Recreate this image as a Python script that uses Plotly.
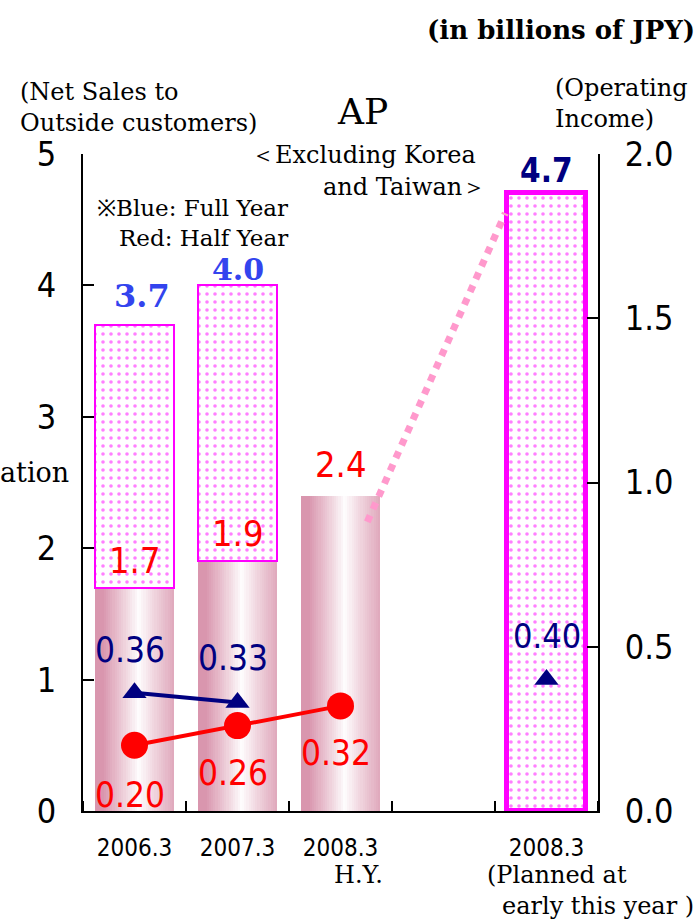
import plotly.graph_objects as go

# ---- data (billions of JPY) ----
categories = ["2006.3", "2007.3", "2008.3", "", "2008.3"]
half_idx = [0, 1, 2]
net_sales_half = [1.7, 1.9, 2.4]          # half-year net sales (H.Y. for 2008.3)
full_idx = [0, 1]
net_sales_full = [3.7, 4.0]               # full-year net sales
plan_idx = 4
net_sales_plan = 4.7                      # planned at early this year
op_income_full = [0.36, 0.33]             # full-year operating income
op_income_half = [0.20, 0.26, 0.32]       # half-year operating income
op_income_plan = 0.40

# ---- styling ----
NARROW = "DejaVu Sans Condensed, Liberation Sans Narrow, Arial Narrow, sans-serif"
SERIF = "DejaVu Serif, Liberation Serif, serif"
MAGENTA = "#ff00ff"
NAVY = "#000080"
RED = "#ff0000"
ROYAL = "#3344ee"
BAR_W = 0.77
PINK_EDGE = (217, 150, 174)

W, H = 700, 921
L, R, T, B = 83, 598, 154, 811


def px(x, y):
    """pixel position -> paper coordinates"""
    return (x - L) / (R - L), (B - y) / (B - T)


fig = go.Figure()

# half-year bars with a horizontal pink-white-pink shading, built from thin strips
N = 36
for i in range(N):
    t = (i + 0.5) / N
    k = abs(2 * t - 1.1) / 1.1 if t > 0.55 else abs(2 * t - 1.1) / 0.9
    k = min(1.0, k) ** 0.9
    col = tuple(round(255 + (c - 255) * k) for c in PINK_EDGE)
    fig.add_trace(go.Bar(
        x=half_idx, y=net_sales_half,
        width=BAR_W / N * 1.15, offset=-BAR_W / 2 + i * BAR_W / N,
        marker=dict(color="rgb(%d,%d,%d)" % col, line=dict(width=0)),
        hoverinfo="skip", showlegend=False,
    ))

dots = dict(shape=".", fgcolor=MAGENTA, bgcolor="white", size=8, solidity=0.16)

# full-year remainder stacked on the half-year bar
fig.add_trace(go.Bar(
    x=full_idx,
    y=[f - h for f, h in zip(net_sales_full, net_sales_half)],
    base=net_sales_half[:len(full_idx)],
    width=BAR_W,
    marker=dict(color="white", pattern=dots, line=dict(color=MAGENTA, width=2)),
    showlegend=False, hoverinfo="skip",
))

# planned full-year bar
fig.add_trace(go.Bar(
    x=[plan_idx], y=[net_sales_plan], width=BAR_W,
    marker=dict(color="white", pattern=dots, line=dict(color=MAGENTA, width=5)),
    showlegend=False, hoverinfo="skip",
))

# connector from the H.Y. bar to the planned bar
fig.add_trace(go.Scatter(
    x=[half_idx[2] + 0.26, plan_idx - 0.4],
    y=[net_sales_half[2] - 0.2, net_sales_plan - 0.15],
    mode="lines", line=dict(color="#ff99cc", width=7, dash="dot"),
    showlegend=False, hoverinfo="skip",
))

# operating income lines (right axis)
fig.add_trace(go.Scatter(
    x=full_idx, y=op_income_full, yaxis="y2", mode="lines+markers",
    line=dict(color=NAVY, width=4),
    marker=dict(symbol="triangle-up", size=21, color=NAVY),
    showlegend=False,
))
fig.add_trace(go.Scatter(
    x=[plan_idx], y=[op_income_plan], yaxis="y2", mode="markers",
    marker=dict(symbol="triangle-up", size=21, color=NAVY),
    showlegend=False,
))
fig.add_trace(go.Scatter(
    x=half_idx, y=op_income_half, yaxis="y2", mode="lines+markers",
    line=dict(color=RED, width=4),
    marker=dict(symbol="circle", size=27, color=RED),
    showlegend=False,
))

ann = []


def label(x, y, text, color, font, size, yshift, yref="y", xshift=0):
    ann.append(dict(x=x, y=y, xref="x", yref=yref, text=text, showarrow=False,
                    yshift=yshift, xshift=xshift,
                    font=dict(family=font, size=size, color=color)))


# value labels
label(full_idx[0], net_sales_full[0], "<b>%.1f</b>" % net_sales_full[0], ROYAL, SERIF, 32, 29, xshift=7)
label(full_idx[1], net_sales_full[1], "<b>%.1f</b>" % net_sales_full[1], ROYAL, SERIF, 30, 16)
label(plan_idx, net_sales_plan, "<b>%.1f</b>" % net_sales_plan, NAVY, NARROW, 33, 23)
for i, v, s in zip(half_idx, net_sales_half, [27, 28, 31]):
    label(i, v, "%.1f" % v, RED, NARROW, 36, s)
for i, v, s in zip(full_idx, op_income_full, [43, 45]):
    label(i, v, "%.2f" % v, NAVY, NARROW, 35, s, yref="y2", xshift=-5)
label(plan_idx, op_income_plan, "%.2f" % op_income_plan, NAVY, NARROW, 34, 44, yref="y2")
for i, v, s in zip(half_idx, op_income_half, [-50, -47, -47]):
    label(i, v, "%.2f" % v, RED, NARROW, 35, s, yref="y2", xshift=-5)


def text(xp, yp, s, size, anchor="left", bold=False, family=SERIF):
    x, y = px(xp, yp)
    ann.append(dict(x=x, y=y, xref="paper", yref="paper", text=("<b>%s</b>" % s) if bold else s,
                    showarrow=False, xanchor=anchor, yanchor="middle", align=anchor,
                    font=dict(family=family, size=size, color="black")))


text(697, 30, "(in billions of JPY)", 26, anchor="right", bold=True)
text(18, 92, "(Net Sales to", 24)
text(18, 123, "Outside customers)", 24)
text(362, 112, "AP", 36, anchor="center")
text(478, 155, "＜Excluding Korea", 24, anchor="right")
text(488, 187, "and Taiwan＞", 24, anchor="right")
text(95, 208, "※Blue: Full Year", 23)
text(117, 238, "Red: Half Year", 23)
text(553, 88, "(Operating", 24)
text(553, 119, "Income)", 24)
text(-2, 472, "ation", 27)
text(358, 875, "H.Y.", 24, anchor="center")
text(485, 875, "(Planned at", 24)
text(500, 906, "early this year )", 24)

fig.update_layout(
    width=W, height=H,
    margin=dict(l=L, r=W - R, t=T, b=H - B, pad=0),
    paper_bgcolor="white", plot_bgcolor="white",
    barmode="overlay", bargap=0,
    annotations=ann,
    xaxis=dict(
        range=[-0.5, len(categories) - 0.5],
        tickmode="array", tickvals=list(range(len(categories))), ticktext=categories,
        ticks="", showline=True, linecolor="black", linewidth=2,
        showgrid=False, zeroline=False,
        tickfont=dict(family=NARROW, size=24, color="black"),
        ticklabelstandoff=14,
        minor=dict(tick0=0.5, dtick=1, ticks="inside", ticklen=10, tickwidth=2, tickcolor="black"),
    ),
    yaxis=dict(
        range=[0, 5], dtick=1, showline=True, linecolor="black", linewidth=2,
        ticks="inside", ticklen=11, tickwidth=2, tickcolor="black",
        showgrid=False, zeroline=False,
        tickfont=dict(family=NARROW, size=34, color="black"),
        ticklabelstandoff=18,
    ),
    yaxis2=dict(
        range=[0, 2], dtick=0.5, tickformat=".1f", overlaying="y", side="right",
        showline=True, linecolor="black", linewidth=2,
        ticks="inside", ticklen=11, tickwidth=2, tickcolor="black",
        showgrid=False, zeroline=False,
        tickfont=dict(family=NARROW, size=34, color="black"),
        ticklabelstandoff=18,
    ),
)

fig.write_html("out.html")
